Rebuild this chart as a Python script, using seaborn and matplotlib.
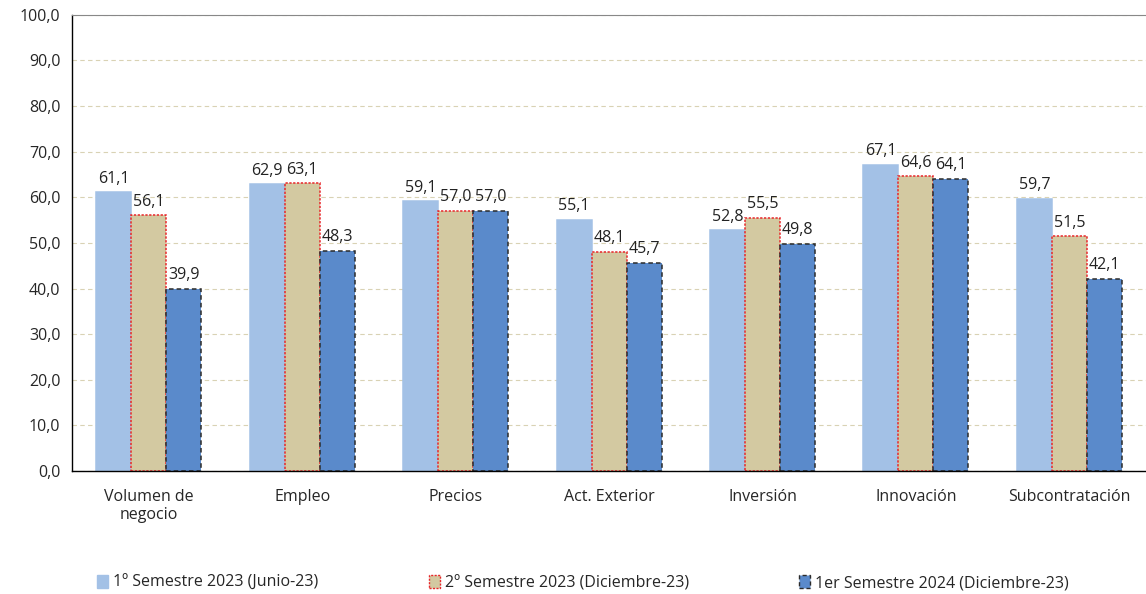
import numpy as np
import pandas as pd
import matplotlib
matplotlib.use("Agg")
import matplotlib.pyplot as plt
import seaborn as sns
from matplotlib.ticker import FuncFormatter, FixedLocator


CATEGORIES = [
    "Volumen de\nnegocio",
    "Empleo",
    "Precios",
    "Act. Exterior",
    "Inversión",
    "Innovación",
    "Subcontratación",
]

SERIES_NAMES = [
    "1º Semestre 2023 (Junio-23)",
    "2º Semestre 2023 (Diciembre-23)",
    "1er Semestre 2024 (Diciembre-23)",
]

S1_2023 = [61.1, 62.9, 59.1, 55.1, 52.8, 67.1, 59.7]
S2_2023 = [56.1, 63.1, 57.0, 48.1, 55.5, 64.6, 51.5]
S1_2024 = [39.9, 48.3, 57.0, 45.7, 49.8, 64.1, 42.1]

COLORS = ["#A3C1E6", "#D3C9A1", "#5A8ACB"]
EDGES = [("#A3C1E6", "-"), ("#E8262A", (0, (1.5, 1))), ("#2B2B2B", (0, (3, 2)))]

rows = []
for name, vals in zip(SERIES_NAMES, [S1_2023, S2_2023, S1_2024]):
    for cat, v in zip(CATEGORIES, vals):
        rows.append({"cat": cat, "serie": name, "valor": v})
df = pd.DataFrame(rows)

sns.set_style("white")
plt.rcParams["font.family"] = ["Open Sans", "DejaVu Sans"]

fig, ax = plt.subplots(figsize=(11.46, 5.94), dpi=100)
fig.subplots_adjust(left=0.063, right=1.0, top=0.975, bottom=0.207)

sns.barplot(
    data=df, x="cat", y="valor", hue="serie",
    palette=COLORS, saturation=1, width=0.685, gap=0, ax=ax, legend=True,
)

for cont, (ec, ls) in zip(ax.containers, EDGES):
    for bar in cont:
        bar.set_edgecolor(ec)
        bar.set_linestyle(ls)
        bar.set_linewidth(1.1)
    ax.bar_label(cont, labels=[f"{b.get_height():.1f}".replace(".", ",") for b in cont],
                 padding=4, fontsize=11.5, color="#222222")

ax.set_xlim(-0.5, len(CATEGORIES) - 0.5)
ax.set_ylim(0, 100)
ax.set_yticks(np.arange(0, 101, 10))
ax.yaxis.set_major_formatter(FuncFormatter(lambda v, p: f"{v:.1f}".replace(".", ",")))
ax.set_xlabel("")
ax.set_ylabel("")

ax.yaxis.grid(True, color="#D9D2B4", linestyle=(0, (4, 3)), linewidth=0.8)
ax.set_axisbelow(True)

# tick marks at category boundaries, labels centered
ax.tick_params(axis="x", which="major", length=0, labelsize=11.5, pad=13)
ax.xaxis.set_minor_locator(FixedLocator(np.arange(-0.5, len(CATEGORIES), 1.0)))
ax.tick_params(axis="x", which="minor", length=6, width=1, color="black", direction="out")
ax.tick_params(axis="y", length=5, width=1, color="black", direction="out", labelsize=11.5)

for side in ["left", "bottom"]:
    ax.spines[side].set_color("black")
    ax.spines[side].set_linewidth(1.0)
ax.spines["top"].set_color("#888888")
ax.spines["top"].set_linewidth(0.8)
ax.spines["right"].set_visible(False)

leg = ax.legend(
    loc="center left", bbox_to_anchor=(0.01, -0.246), ncol=3, frameon=False,
    fontsize=11.5, handlelength=0.7, handleheight=0.9, handletextpad=0.3,
    columnspacing=6.9,
)
for patch, (ec, ls) in zip(leg.get_patches(), EDGES):
    patch.set_edgecolor(ec)
    patch.set_linestyle(ls)

fig.savefig("out.png", dpi=100)
